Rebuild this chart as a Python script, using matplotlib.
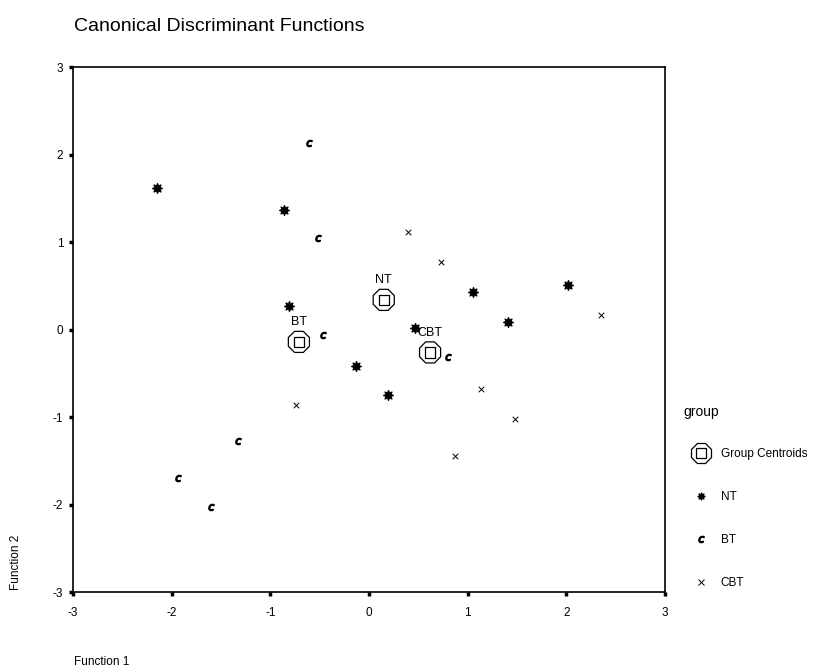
import matplotlib.pyplot as plt
from matplotlib.lines import Line2D

plt.rcParams['font.family'] = ['Liberation Sans', 'DejaVu Sans']
plt.rcParams['axes.unicode_minus'] = False

# Casos por grupo (Function 1, Function 2)
nt_x = [-2.15, -0.86, -0.81, 1.06, 2.02, 1.41, 0.47, -0.13, 0.19]
nt_y = [1.62, 1.37, 0.27, 0.43, 0.51, 0.09, 0.02, -0.42, -0.75]

bt_x = [-0.52, -0.61, -0.47, 0.80, -1.33, -1.94, -1.60]
bt_y = [1.05, 2.13, -0.06, -0.31, -1.27, -1.70, -2.03]

cbt_x = [0.40, 0.73, 2.35, 1.14, 1.48, 0.87, -0.74]
cbt_y = [1.11, 0.77, 0.17, -0.68, -1.02, -1.44, -0.86]

# Centroides de grupo
cent_labels = ["NT", "BT", "CBT"]
cent_x = [0.15, -0.71, 0.62]
cent_y = [0.34, -0.14, -0.26]

ticks = [-3, -2, -1, 0, 1, 2, 3]

fig = plt.figure(figsize=(8.3, 6.7), dpi=100)
ax = fig.add_axes([0.088, 0.116, 0.713, 0.784])

nt_style = dict(marker=(8, 1, 0), color="black", s=48, linewidths=1.0)
bt_style = dict(marker=r"$c$", color="black", s=20)
cbt_style = dict(marker="x", color="black", s=16, linewidths=0.7)

ax.scatter(nt_x, nt_y, **nt_style)
ax.scatter(bt_x, bt_y, **bt_style)
ax.scatter(cbt_x, cbt_y, **cbt_style)

# centroides: octógono con cuadrado dentro
ax.scatter(cent_x, cent_y, marker="8", s=270, facecolors="none", edgecolors="black", linewidths=0.9)
ax.scatter(cent_x, cent_y, marker="s", s=55, facecolors="none", edgecolors="black", linewidths=0.9)
for lab, cx, cy in zip(cent_labels, cent_x, cent_y):
    ax.annotate(lab, (cx, cy), xytext=(0, 10), textcoords="offset points",
                ha="center", va="bottom", fontsize=9)

ax.set_xlim(-3, 3)
ax.set_ylim(-3, 3)
ax.set_xticks(ticks)
ax.set_yticks(ticks)
ax.tick_params(direction="out", length=3, width=2.5, labelsize=8.5, pad=4)
ax.tick_params(axis="x", pad=7.5)
for sp in ax.spines.values():
    sp.set_linewidth(1.2)

fig.text(0.089, 0.96, "Canonical Discriminant Functions", fontsize=14, ha="left", va="center")
fig.text(0.089, 0.012, "Function 1", fontsize=8.5, ha="left", va="center")
fig.text(0.012, 0.12, "Function 2", fontsize=8.5, rotation=90, ha="left", va="bottom")

# leyenda
fig.text(683 / 830, 1 - 412 / 670, "group", fontsize=10, ha="left", va="center")
h_cent = (Line2D([], [], marker="8", ms=15, mfc="none", mec="black", ls="none", mew=0.9),
          Line2D([], [], marker="s", ms=6.5, mfc="none", mec="black", ls="none", mew=0.9))
h_nt = Line2D([], [], marker=(8, 1, 0), ms=5.5, color="black", ls="none", mew=0.8)
h_bt = Line2D([], [], marker=r"$c$", ms=4.5, color="black", ls="none")
h_cbt = Line2D([], [], marker="x", ms=4, color="black", ls="none", mew=0.7)
leg = fig.legend([h_cent, h_nt, h_bt, h_cbt], ["Group Centroids", "NT", "BT", "CBT"],
                 loc="upper left", bbox_to_anchor=(0.82, 0.347),
                 frameon=False, fontsize=8.5, labelspacing=2.62,
                 handletextpad=0.9, handlelength=1.6)

fig.savefig("out.png", dpi=100)
